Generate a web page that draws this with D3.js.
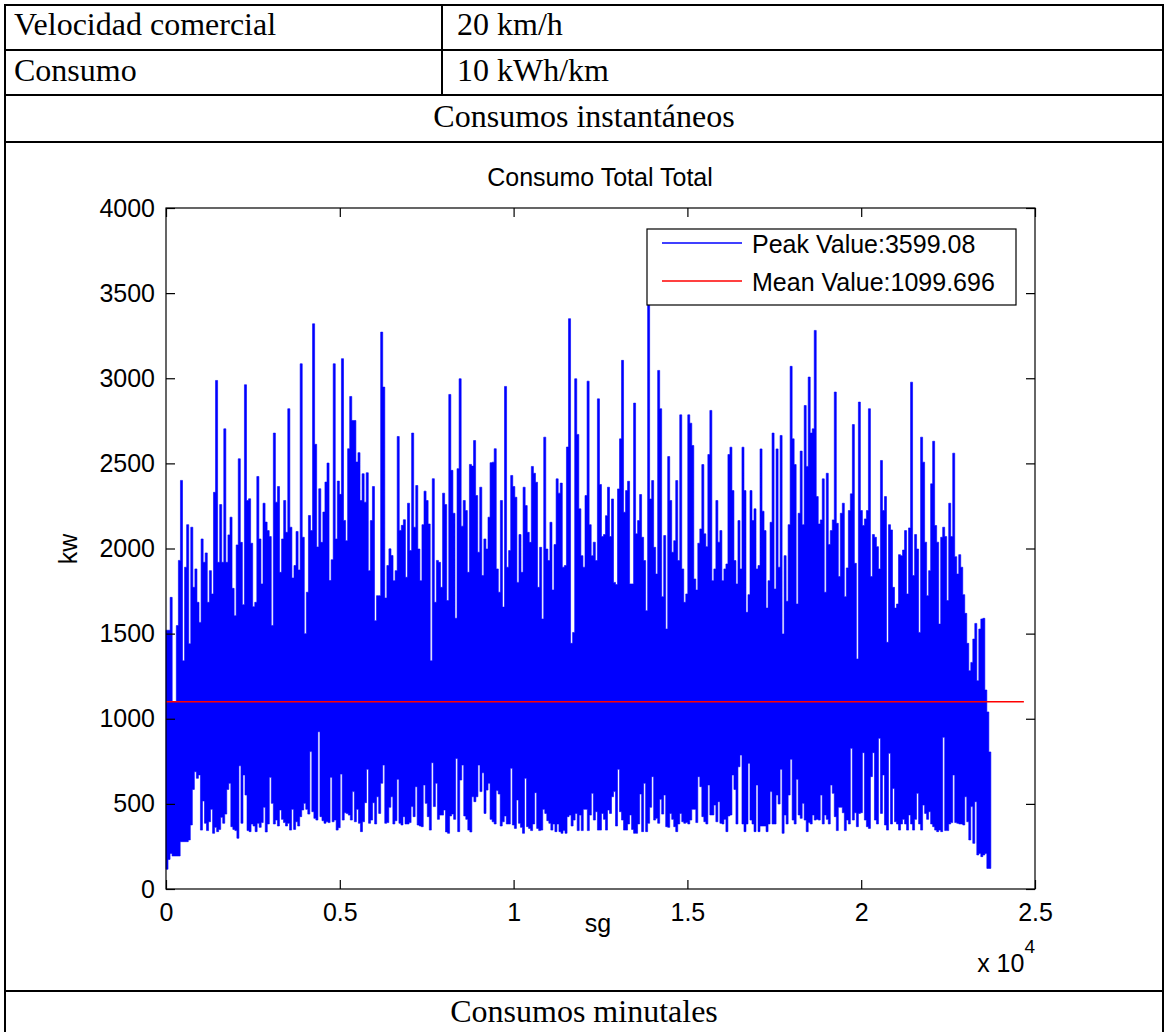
<!DOCTYPE html>
<html>
<head>
<meta charset="utf-8">
<title>Consumo Total Total</title>
<script src="https://d3js.org/d3.v7.min.js"></script>
<style type="text/css">
    body { margin: 0; background: #fff; }
    .cell { font-family: "Liberation Serif", "Times New Roman", serif; font-size: 32px; fill: #000; }
    .rule { stroke: #000; stroke-width: 2; }
    .ml { font-family: "Liberation Sans", Arial, sans-serif; font-size: 25px; fill: #000; }
    .axis text { font-family: "Liberation Sans", Arial, sans-serif; font-size: 25px; fill: #000; }
    .axis line { stroke: #000; stroke-width: 1.2; }
    .signal { fill: #0000ff; stroke: #0000ff; stroke-width: 0.6; }
    .mean { fill: none; stroke: #ff0000; stroke-width: 1.5; }
</style>
</head>
<body>
<script>
// table texts
var tableRows = [["Velocidad comercial", "20 km/h"], ["Consumo", "10 kWh/km"]];
var sectionTitles = ["Consumos instantáneos", "Consumos minutales"];

// chart texts and ticks
var chartTitle = "Consumo Total Total";
var xLabel = "sg", yLabel = "kw";
var xTickValues = [0, 5000, 10000, 15000, 20000, 25000];
var xTickLabels = ["0", "0.5", "1", "1.5", "2", "2.5"];
var yTickValues = [0, 500, 1000, 1500, 2000, 2500, 3000, 3500, 4000];
var yTickLabels = ["0", "500", "1000", "1500", "2000", "2500", "3000", "3500", "4000"];

var peakValue = 3599.08, meanValue = 1099.696;
var meanEnd = 24680;   // s, end of the red mean line
var legendLabels = ["Peak Value:3599.08", "Mean Value:1099.696"];
var legendColors = ["#0000ff", "#ff0000"];

// upper envelope of the signal (kW), first and second half of the run
var spanA = [0, 12470], spanB = [12470, 23730];
var peakA = [1520,1520,1713,1100,1100,1547,1930,2400,1340,1890,
    2140,1440,2125,1772,1880,1684,1566,2056,1919,1974,
    1684,1870,1733,2330,2987,1919,2258,1919,2703,1919,
    2080,2184,1766,1605,2021,2527,2036,1670,2962,2282,
    2292,2031,1658,1684,2423,2056,1792,2266,2155,2105,
    2070,1547,2678,2272,2364,1860,2056,2282,2095,2821,
    2125,1827,1900,2100,1874,3085,2066,1500,1743,2194,
    2105,3320,2612,2009,2351,2036,2214,2390,2502,1812,
    1934,3085,2056,2396,2318,3115,2165,2046,2586,2893,
    2752,2752,2508,2563,2282,2439,2272,2445,1870,2164,
    2364,1576,1723,1723,3271,2948,1709,1900,1998,1959,
    1811,1870,2658,2106,2136,2169,1831,2266,1988,2678,
    2125,2370,1997,1811,2140,2337,2282,2144,1340,2410,
    1684,1930,1919,1772,2325,2258,1694,2905,2459,2207,
    1590,2469,2997,2131,2282,2223,1860,2494,2484,2634,
    2311,1978,2360,1841,2056,1997,2184,2504,2507,2586,
    1880,1743,2282,1656,2952,1890,1988,2429,2364,2301,
    1801,2082,1860,2360,2252,2095,2036,2482,2442,2389,
    1772,2007,1586,2654,1997,1929,2154,1756,2023,2409,
    2325,2384,1890,1900,2596,3350,1443,1507,2997,2670,
    2233,1958,1890,2311,2983,2140,1958,2037,1929,2879];
var peakB = [2376,2070,2082,2193,2360,2070,2291,1801,1788,2350,
    2644,3105,2213,2340,2395,1792,1792,2854,2086,2164,
    2317,2066,1929,1635,3599,2291,2399,2007,1850,3046,
    2821,1717,2076,1527,2540,2282,1978,2046,2399,1929,
    2785,1880,1684,1733,2785,2736,2605,1821,1756,2031,
    2115,2493,2086,2011,2552,2811,1811,1880,2282,2037,
    2105,1811,1880,1909,2552,2595,2340,1929,1792,2164,
    1880,2595,2340,1625,1729,2340,2164,2233,1880,1900,
    2585,2219,2105,1650,1811,2154,2678,1762,2585,1890,
    2664,1498,1958,1690,2140,3070,2644,2493,1674,2207,
    2572,2140,2840,2482,3007,2678,2703,3281,2305,2144,
    2168,2409,1743,2442,2023,2105,2168,2919,2148,1835,
    2207,2266,1717,1886,2223,2321,2728,1913,1351,2860,
    2223,2135,2174,2223,2821,1835,2082,2066,2011,1880,
    2517,2223,2305,1449,2140,2109,1772,1650,1674,1964,
    1958,1991,2105,1733,2121,2977,1841,2082,1997,1507,
    2654,2507,2037,1723,1870,2380,2630,2135,2037,1556,
    2066,2125,2070,1694,2266,2070,2560,1952,1850,1964,
    1890,1729,1619,1443,1282,1331,1468,1560,1223,1527,
    1586,1590,1169,1040,805];

// lower envelope of the signal (kW)
var valleyA = [116,174,209,194,194,194,194,278,278,278,
    278,288,376,585,689,650,670,346,517,386,
    343,395,468,327,362,337,350,421,386,440,
    585,621,366,350,343,298,724,386,670,552,
    343,337,382,370,337,386,362,390,480,335,
    382,656,503,382,405,370,464,409,390,370,
    386,346,468,350,395,370,425,464,503,468,
    440,807,454,415,405,924,425,401,386,395,
    390,656,395,405,346,360,675,405,448,444,
    434,405,572,395,468,386,337,395,507,703,
    386,405,507,382,542,444,621,728,386,390,
    480,542,382,401,644,386,376,425,382,382,
    390,484,425,601,376,370,366,611,503,425,
    346,742,484,621,409,434,434,464,335,327,
    429,440,409,767,337,640,728,429,409,346,
    335,542,513,542,728,572,683,444,581,621,
    409,395,382,578,558,370,395,429,382,382,
    709,376,356,523,386,362,327,650,366,356,
    343,382,566,356,343,346,468,444,401,386,
    346,382,337,382,337,327,343,327,425,434,
    370,405,444,343,434,343,468,468,343,434,
    562,405,454,346];
var valleyB = [346,444,409,346,464,444,542,572,370,703,
    454,405,346,346,382,435,350,327,327,382,
    558,337,621,337,386,480,660,405,415,386,
    527,440,552,366,362,444,409,366,337,382,
    444,395,386,390,382,405,468,468,390,660,
    601,425,395,382,611,435,435,493,395,513,
    386,382,409,337,429,435,670,585,382,718,
    787,382,337,382,738,405,382,337,611,337,
    370,370,370,337,382,572,382,382,552,499,
    703,327,435,382,552,762,405,382,644,435,
    415,503,405,337,390,382,435,405,409,405,
    552,382,435,409,382,611,562,425,343,480,
    480,448,343,405,382,826,405,448,366,444,
    448,801,405,366,356,660,801,405,382,885,
    444,670,376,346,797,382,591,395,382,346,
    382,409,382,346,435,382,346,409,562,382,
    346,493,444,409,454,382,366,346,337,346,
    337,891,343,343,382,390,670,390,386,382,
    382,376,542,395,288,484,268,513,200,209,
    190,200,209,121,121];

var svgWidth = 1165, svgHeight = 1032;
var plot = {left: 166, right: 1035, top: 208, bottom: 889};

var svg = d3.select("body").append("svg")
    .attr("width", svgWidth)
    .attr("height", svgHeight);

// ---- table frame ----
var rowY = [5, 50, 95, 142, 991];
rowY.forEach(function (yy) {
    svg.append("line").attr("class", "rule")
        .attr("x1", 4).attr("x2", 1164).attr("y1", yy).attr("y2", yy);
});
svg.append("line").attr("class", "rule").attr("x1", 5).attr("x2", 5).attr("y1", 4).attr("y2", svgHeight);
svg.append("line").attr("class", "rule").attr("x1", 1163).attr("x2", 1163).attr("y1", 4).attr("y2", svgHeight);
svg.append("line").attr("class", "rule").attr("x1", 442).attr("x2", 442).attr("y1", 5).attr("y2", 95);

tableRows.forEach(function (r, i) {
    var base = [35, 81][i];
    svg.append("text").attr("class", "cell").attr("x", 14).attr("y", base).text(r[0]);
    svg.append("text").attr("class", "cell").attr("x", 457).attr("y", base).text(r[1]);
});
svg.append("text").attr("class", "cell").attr("x", 584).attr("y", 127)
    .attr("text-anchor", "middle").text(sectionTitles[0]);
svg.append("text").attr("class", "cell").attr("x", 584).attr("y", 1022)
    .attr("text-anchor", "middle").text(sectionTitles[1]);

// ---- chart ----
var xScale = d3.scaleLinear().domain([0, 25000]).range([plot.left, plot.right]);
var yScale = d3.scaleLinear().domain([0, 4000]).range([plot.bottom, plot.top]);

function spread(vals, span) {
    var w = (span[1] - span[0]) / vals.length;
    return vals.map(function (v, i) { return {t: span[0] + i * w, v: v}; });
}
var hiPts = spread(peakA, spanA).concat(spread(peakB, spanB));
hiPts.push({t: spanB[1], v: peakB[peakB.length - 1]});
var loPts = spread(valleyA, spanA).concat(spread(valleyB, spanB));
loPts.push({t: spanB[1], v: valleyB[valleyB.length - 1]});

var topEdge = d3.line().x(d => xScale(d.t)).y(d => yScale(d.v)).curve(d3.curveStepAfter);
var bottomEdge = d3.line().x(d => xScale(d.t)).y(d => yScale(d.v)).curve(d3.curveStepBefore);
var dTop = topEdge(hiPts);
var dBottom = bottomEdge(loPts.slice().reverse());

svg.append("path")
    .attr("class", "signal")
    .attr("d", dTop + "L" + dBottom.slice(1) + "Z");

svg.append("path")
    .datum([{t: 0, v: meanValue}, {t: meanEnd, v: meanValue}])
    .attr("class", "mean")
    .attr("d", d3.line().x(d => xScale(d.t)).y(d => yScale(d.v)));

// axes, MATLAB style: box with inward ticks on all sides
var gx = svg.append("g").attr("class", "axis")
    .attr("transform", "translate(0," + plot.bottom + ")")
    .call(d3.axisBottom(xScale).tickValues(xTickValues)
        .tickFormat((d, i) => xTickLabels[i]).tickSize(-9).tickSizeOuter(0).tickPadding(14));
gx.select(".domain").remove();

var gy = svg.append("g").attr("class", "axis")
    .attr("transform", "translate(" + plot.left + ",0)")
    .call(d3.axisLeft(yScale).tickValues(yTickValues)
        .tickFormat((d, i) => yTickLabels[i]).tickSize(-9).tickSizeOuter(0).tickPadding(11));
gy.select(".domain").remove();

var gt = svg.append("g").attr("class", "axis")
    .attr("transform", "translate(0," + plot.top + ")")
    .call(d3.axisTop(xScale).tickValues(xTickValues).tickFormat("").tickSize(-9).tickSizeOuter(0));
gt.select(".domain").remove();

var gr = svg.append("g").attr("class", "axis")
    .attr("transform", "translate(" + plot.right + ",0)")
    .call(d3.axisRight(yScale).tickValues(yTickValues).tickFormat("").tickSize(-9).tickSizeOuter(0));
gr.select(".domain").remove();

svg.append("rect")
    .attr("x", plot.left).attr("y", plot.top)
    .attr("width", plot.right - plot.left).attr("height", plot.bottom - plot.top)
    .attr("fill", "none").attr("stroke", "#000").attr("stroke-width", 1.2);

// titles and labels
svg.append("text").attr("class", "ml").attr("x", 600).attr("y", 186)
    .attr("text-anchor", "middle").text(chartTitle);
svg.append("text").attr("class", "ml").attr("x", 598).attr("y", 932)
    .attr("text-anchor", "middle").text(xLabel);
svg.append("text").attr("class", "ml")
    .attr("transform", "translate(77,549) rotate(-90)")
    .attr("text-anchor", "middle").text(yLabel);

var exp = svg.append("text").attr("class", "ml").attr("x", plot.right).attr("y", 972)
    .attr("text-anchor", "end");
exp.append("tspan").text("x 10");
exp.append("tspan").attr("dy", -19).style("font-size", "19px").text("4");

// legend
var legend = svg.append("g");
legend.append("rect")
    .attr("x", 647).attr("y", 229).attr("width", 369).attr("height", 76)
    .attr("fill", "#fff").attr("stroke", "#000").attr("stroke-width", 1.2);
legendLabels.forEach(function (lab, i) {
    var ly = 243 + i * 38;
    legend.append("line")
        .attr("x1", 662).attr("x2", 742).attr("y1", ly).attr("y2", ly)
        .attr("stroke", legendColors[i]).attr("stroke-width", 1.5);
    legend.append("text").attr("class", "ml")
        .attr("x", 752).attr("y", ly + 10).text(lab);
});
</script>
</body>
</html>
